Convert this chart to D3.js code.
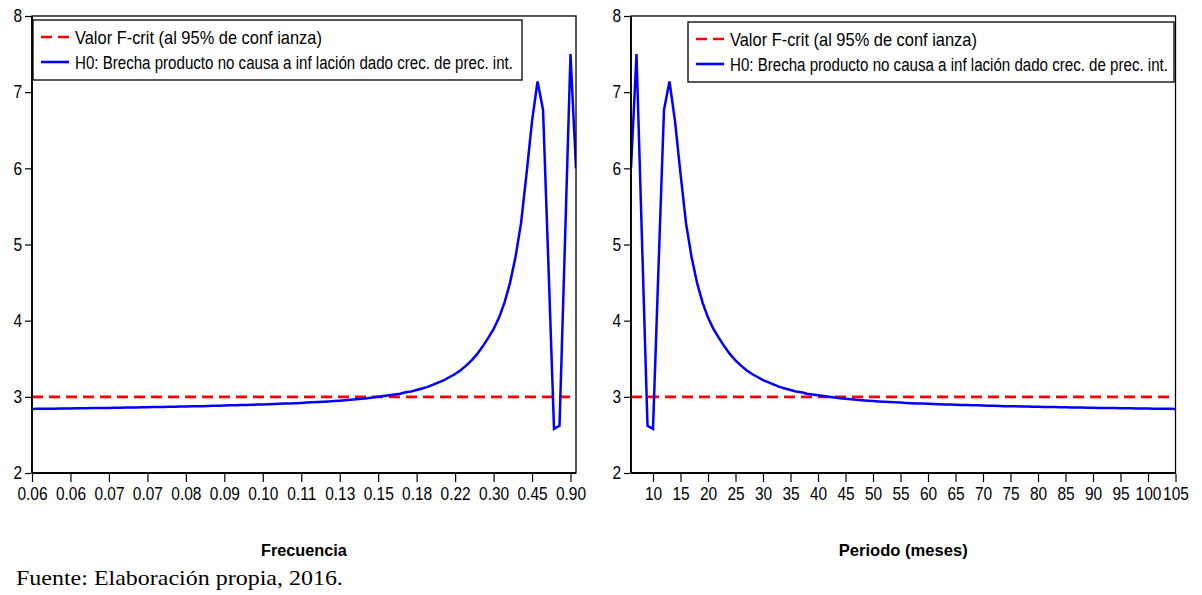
<!DOCTYPE html>
<html>
<head>
<meta charset="utf-8">
<script src="https://cdn.jsdelivr.net/npm/d3@7"></script>
<style>
  body { margin: 0; background: #fff; }
  svg { display: block; }
</style>
</head>
<body>
<svg id="chart" width="1202" height="595"></svg>
<script>
// ---------- DATA ----------
const periods = d3.range(6, 106); // 6 .. 105 months
const statValues = [
  6.00, 7.50, 5.05, 2.62, 2.58, 4.70, 6.77, 7.14, 6.62, 5.93,   // 6-15
  5.28, 4.84, 4.50, 4.24, 4.04, 3.89, 3.77, 3.66, 3.56, 3.48,   // 16-25
  3.41, 3.35, 3.30, 3.26, 3.22, 3.19, 3.16, 3.13, 3.11, 3.09,   // 26-35
  3.07, 3.06, 3.04, 3.03, 3.02, 3.01, 3.00, 2.99, 2.98, 2.975,  // 36-45
  2.968, 2.962, 2.956, 2.950, 2.945, 2.940, 2.936, 2.932, 2.928, 2.924, // 46-55
  2.920, 2.917, 2.914, 2.911, 2.908, 2.905, 2.903, 2.900, 2.898, 2.896, // 56-65
  2.894, 2.892, 2.890, 2.888, 2.886, 2.884, 2.882, 2.880, 2.878, 2.877, // 66-75
  2.875, 2.874, 2.872, 2.871, 2.869, 2.868, 2.866, 2.865, 2.864, 2.862, // 76-85
  2.861, 2.860, 2.859, 2.858, 2.856, 2.855, 2.854, 2.853, 2.852, 2.851, // 86-95
  2.850, 2.849, 2.848, 2.847, 2.846, 2.845, 2.844, 2.843, 2.842, 2.841  // 96-105
];
const fCrit = 3.0;
const yTicks = [2, 3, 4, 5, 6, 7, 8];
const freqTickPeriods = [105, 98, 91, 84, 77, 70, 63, 56, 49, 42, 35, 28, 21, 14, 7];
const freqTickLabels = ["0.06","0.06","0.07","0.07","0.08","0.09","0.10","0.11","0.13","0.15","0.18","0.22","0.30","0.45","0.90"];
const periodTicks = [10,15,20,25,30,35,40,45,50,55,60,65,70,75,80,85,90,95,100,105];
const legendLabels = ["Valor F-crit (al 95% de conf ianza)", "H0: Brecha producto no causa a inf lación dado crec. de prec. int."];
const xTitles = ["Frecuencia", "Periodo (meses)"];
const sourceNote = "Fuente: Elaboración propia, 2016.";

const data = periods.map((p, i) => ({ p, v: statValues[i] }));

// ---------- DRAW ----------
const svg = d3.select("#chart");
const plotTop = 16, plotBottom = 473;
const y = d3.scaleLinear().domain([2, 8]).range([plotBottom, plotTop]);
const sans = '"Liberation Sans", Arial, sans-serif';
const NARROW = 0.86;

function condense(sel, size) {
  sel.each(function () {
    const t = d3.select(this);
    const x = +t.attr("x") || 0;
    t.attr("x", 0)
     .attr("font-family", sans).attr("font-size", size).attr("fill", "#000")
     .attr("transform", `translate(${x},0) scale(${NARROW},1)`);
  });
}

// place a text at (x, y) squeezed horizontally to a target width
function fitText(parent, str, x, yPos, width, attrs) {
  const t = parent.append("text").attr("x", 0).attr("y", 0).text(str);
  Object.entries(attrs).forEach(([k, v]) => t.attr(k, v));
  const natural = t.node().getComputedTextLength();
  const s = width / natural;
  t.attr("transform", `translate(${x},${yPos}) scale(${s},1)`);
  return t;
}

const panels = [
  { x: d3.scaleLinear().domain([105, 6]).range([32, 576]),
    ticks: freqTickPeriods, fmt: (d, i) => freqTickLabels[i], title: xTitles[0], titleW: 86,
    legend: { x0: 33, y0: 20, x1: 522, y1: 80 } },
  { x: d3.scaleLinear().domain([6, 105]).range([631, 1175.5]),
    ticks: periodTicks, fmt: d => String(d), title: xTitles[1], titleW: 129,
    legend: { x0: 688, y0: 22, x1: 1174, y1: 82 } }
];

panels.forEach((P, idx) => {
  const g = svg.append("g");
  const [xl, xr] = P.x.range();
  const left = Math.min(xl, xr), right = Math.max(xl, xr);

  const clipId = "clip" + idx;
  svg.append("clipPath").attr("id", clipId).append("rect")
    .attr("x", left).attr("y", plotTop).attr("width", right - left).attr("height", plotBottom - plotTop);

  // y axis
  const yAxis = d3.axisLeft(y).tickValues(yTicks).tickSize(6).tickPadding(3).tickFormat(d3.format("d"));
  const ya = g.append("g").attr("transform", `translate(${left - 1},0)`).call(yAxis);
  ya.select(".domain").remove();
  condense(ya.selectAll("text"), 18);
  ya.selectAll("line").attr("stroke", "#000").attr("stroke-width", 1.2);

  // x axis
  const xAxis = d3.axisBottom(P.x).tickValues(P.ticks).tickSize(8).tickPadding(5).tickFormat(P.fmt);
  const xa = g.append("g").attr("transform", `translate(0,${plotBottom + 1})`).call(xAxis);
  xa.select(".domain").remove();
  condense(xa.selectAll("text"), 18);
  xa.selectAll("line").attr("stroke", "#000").attr("stroke-width", 1.2);

  // series
  const plot = g.append("g").attr("clip-path", `url(#${clipId})`);
  plot.append("line")
    .attr("x1", left).attr("x2", right)
    .attr("y1", y(fCrit)).attr("y2", y(fCrit))
    .attr("stroke", "#ff0000").attr("stroke-width", 2.6)
    .attr("stroke-dasharray", "11,6");
  const line = d3.line().x(d => P.x(d.p)).y(d => y(d.v));
  plot.append("path").datum(data)
    .attr("d", line).attr("fill", "none")
    .attr("stroke", "#0000ff").attr("stroke-width", 2.5)
    .attr("stroke-linejoin", "miter");

  // frame
  g.append("rect").attr("x", left).attr("y", plotTop).attr("width", right - left).attr("height", plotBottom - plotTop)
    .attr("fill", "none").attr("stroke", "#000").attr("stroke-width", 1.3);
  g.append("line").attr("x1", left).attr("x2", right).attr("y1", plotBottom).attr("y2", plotBottom)
    .attr("stroke", "#000").attr("stroke-width", 2.2);
  g.append("line").attr("x1", left).attr("x2", left).attr("y1", plotTop).attr("y2", plotBottom)
    .attr("stroke", "#000").attr("stroke-width", 1.8);

  // legend
  const L = P.legend;
  const lg = g.append("g");
  lg.append("rect").attr("x", L.x0).attr("y", L.y0).attr("width", L.x1 - L.x0).attr("height", L.y1 - L.y0)
    .attr("fill", "#fff").attr("stroke", "#000").attr("stroke-width", 1.3);
  const rowY = [L.y0 + 17, L.y0 + 42];
  lg.append("line").attr("x1", L.x0 + 8).attr("x2", L.x0 + 36).attr("y1", rowY[0]).attr("y2", rowY[0])
    .attr("stroke", "#ff0000").attr("stroke-width", 2.6).attr("stroke-dasharray", "11,6");
  lg.append("line").attr("x1", L.x0 + 8).attr("x2", L.x0 + 36).attr("y1", rowY[1]).attr("y2", rowY[1])
    .attr("stroke", "#0000ff").attr("stroke-width", 2.6);
  const lw = [247, 438];
  legendLabels.forEach((t, i) => {
    fitText(lg, t, L.x0 + 42, rowY[i] + 6.5, lw[i], { "font-family": sans, "font-size": 18 });
  });

  // axis title
  fitText(g, P.title, (left + right) / 2 - P.titleW / 2, 556, P.titleW,
    { "font-family": sans, "font-size": 17, "font-weight": "bold" });
});

fitText(svg, sourceNote, 16, 585, 327,
  { "font-family": '"Liberation Serif", "Times New Roman", serif', "font-size": 21 });
</script>
</body>
</html>
